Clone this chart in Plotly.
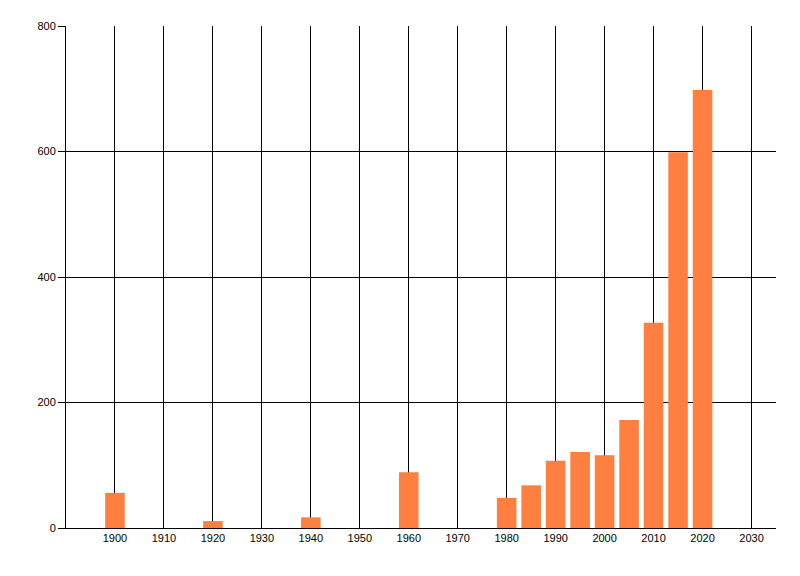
import plotly.graph_objects as go

# values
years = [1900, 1920, 1940, 1960, 1980, 1985, 1990, 1995, 2000, 2005, 2010, 2015, 2020]
counts = [56, 11, 17, 89, 48, 68, 107, 121, 116, 172, 327, 599, 698]

x_ticks = list(range(1900, 2031, 10))
y_ticks = [0, 200, 400, 600, 800]

BAR_COLOR = "#FF7F40"
FONT = "Liberation Sans, DejaVu Sans, sans-serif"

fig = go.Figure()

fig.add_trace(
    go.Bar(
        x=years,
        y=counts,
        width=4,
        marker=dict(color=BAR_COLOR, line=dict(width=0)),
        showlegend=False,
    )
)

# the page body adds an 8px margin, so the figure is sized to fit inside the window
fig.update_layout(
    width=784,
    height=560,
    margin=dict(l=58, r=16, t=18, b=40),
    paper_bgcolor="white",
    plot_bgcolor="white",
    font=dict(family=FONT, size=11, color="black"),
    xaxis=dict(
        range=[1890, 2035],
        tickvals=x_ticks,
        ticktext=[str(v) for v in x_ticks],
        showgrid=True,
        gridcolor="black",
        gridwidth=1,
        showline=True,
        linecolor="black",
        linewidth=1,
        ticks="",
        zeroline=False,
        layer="below traces",
    ),
    yaxis=dict(
        range=[0, 800],
        tickvals=y_ticks,
        showgrid=True,
        gridcolor="black",
        gridwidth=1,
        showline=True,
        linecolor="black",
        linewidth=1,
        ticks="outside",
        ticklen=7,
        tickcolor="black",
        zeroline=False,
        layer="below traces",
    ),
)

fig.write_html("out.html")
